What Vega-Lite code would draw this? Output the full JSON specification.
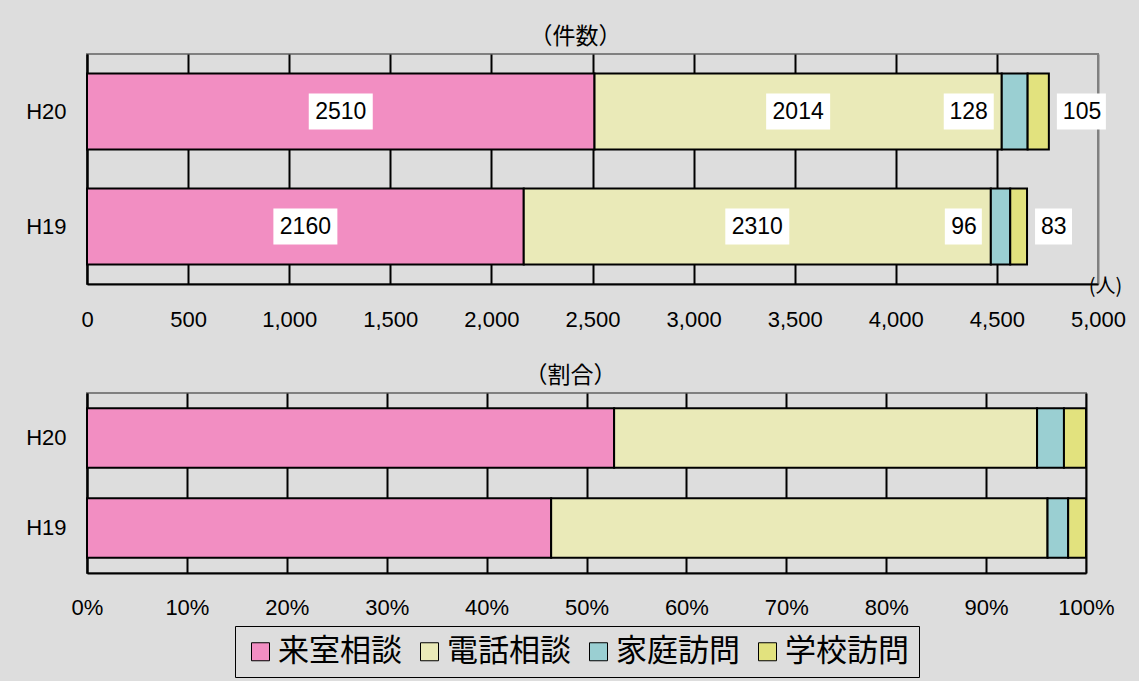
{
  "$schema": "https://vega.github.io/schema/vega-lite/v6.json",
  "background": "#DDDDDD",
  "padding": {"left": 24, "top": 25, "right": 14, "bottom": 4},
  "autosize": {"type": "pad"},
  "datasets": {
    "d": [
      {"year": "H20", "category": "来室相談", "rank": 1, "count": 2510},
      {"year": "H20", "category": "電話相談", "rank": 2, "count": 2014},
      {"year": "H20", "category": "家庭訪問", "rank": 3, "count": 128},
      {"year": "H20", "category": "学校訪問", "rank": 4, "count": 105},
      {"year": "H19", "category": "来室相談", "rank": 1, "count": 2160},
      {"year": "H19", "category": "電話相談", "rank": 2, "count": 2310},
      {"year": "H19", "category": "家庭訪問", "rank": 3, "count": 96},
      {"year": "H19", "category": "学校訪問", "rank": 4, "count": 83}
    ]
  },
  "config": {
    "font": "Liberation Sans",
    "view": {"stroke": "#808080", "strokeWidth": 2},
    "axis": {
      "labelFont": "Liberation Sans",
      "labelFontSize": 22,
      "labelColor": "black",
      "domainColor": "black",
      "domainWidth": 2,
      "ticks": false,
      "gridColor": "black",
      "gridWidth": 2,
      "gridOpacity": 1,
      "labelFlush": false,
      "labelOverlap": false
    },
    "title": {"font": "Noto Sans CJK JP", "fontSize": 23, "fontWeight": "normal", "color": "black"},
    "concat": {"spacing": 33}
  },
  "resolve": {"scale": {"color": "shared"}},
  "vconcat": [
    {
      "width": 1011,
      "height": 230,
      "title": {"text": "（件数）", "dx": -17, "offset": 5},
      "data": {"name": "d"},
      "transform": [
        {"stack": "count", "groupby": ["year"], "sort": [{"field": "rank", "order": "ascending"}], "as": ["x0", "x1"]},
        {"calculate": "(datum.x0 + datum.x1) / 2", "as": "xm"}
      ],
      "encoding": {
        "y": {
          "field": "year", "type": "nominal", "sort": ["H20", "H19"],
          "scale": {"paddingInner": 0.34, "paddingOuter": 0.17},
          "axis": {"title": null, "labelPadding": 21}
        }
      },
      "layer": [
        {
          "mark": {"type": "bar", "stroke": "black", "strokeWidth": 2},
          "encoding": {
            "x": {
              "field": "x0", "type": "quantitative",
              "scale": {"domain": [0, 5000]},
              "axis": {
                "values": [0, 500, 1000, 1500, 2000, 2500, 3000, 3500, 4000, 4500, 5000],
                "format": ",d",
                "labelPadding": 25,
                "grid": true,
                "gridColor": {"condition": {"test": "datum.value === 5000", "value": "#808080"}, "value": "black"},
                "title": "(人)",
                "titleX": 1018,
                "titleY": 2,
                "titleAlign": "center",
                "titleBaseline": "middle",
                "titleFont": "Noto Sans CJK JP",
                "titleFontSize": 20,
                "titleFontWeight": "normal",
                "titleColor": "black"
              }
            },
            "x2": {"field": "x1"},
            "color": {
              "field": "category", "type": "nominal",
              "scale": {"domain": ["来室相談", "電話相談", "家庭訪問", "学校訪問"], "range": ["#F28EC2", "#EAEAB8", "#9ACFD2", "#E2E27E"]},
              "legend": {
                "title": null, "orient": "none", "legendX": 148, "legendY": 572,
                "direction": "horizontal", "symbolType": "square", "symbolSize": 324,
                "symbolStrokeColor": "black", "symbolStrokeWidth": 1,
                "labelFont": "Noto Sans CJK JP", "labelFontSize": 31, "labelColor": "black",
                "labelOffset": 2, "columnPadding": 12, "padding": 10,
                "strokeColor": "black", "fillColor": "#DDDDDD", "labelLimit": 300,
                "encoding": {"legend": {"update": {"strokeWidth": {"value": 2}}}}
              }
            }
          }
        },
        {
          "transform": [{"filter": "datum.rank <= 2"}],
          "mark": {"type": "point", "filled": true, "fill": "white", "opacity": 1, "size": 4, "strokeWidth": 0, "shape": "M-32,-18H32V18H-32Z"},
          "encoding": {"x": {"field": "xm", "type": "quantitative"}}
        },
        {
          "transform": [{"filter": "datum.rank === 3 && datum.year === 'H20'"}],
          "mark": {"type": "point", "filled": true, "fill": "white", "opacity": 1, "size": 4, "strokeWidth": 0, "shape": "M-58,-18H-8V18H-58Z"},
          "encoding": {"x": {"field": "x0", "type": "quantitative"}}
        },
        {
          "transform": [{"filter": "datum.rank === 3 && datum.year === 'H19'"}],
          "mark": {"type": "point", "filled": true, "fill": "white", "opacity": 1, "size": 4, "strokeWidth": 0, "shape": "M-46,-18H-9V18H-46Z"},
          "encoding": {"x": {"field": "x0", "type": "quantitative"}}
        },
        {
          "transform": [{"filter": "datum.rank === 4 && datum.year === 'H20'"}],
          "mark": {"type": "point", "filled": true, "fill": "white", "opacity": 1, "size": 4, "strokeWidth": 0, "shape": "M8,-18H57V18H8Z"},
          "encoding": {"x": {"field": "x1", "type": "quantitative"}}
        },
        {
          "transform": [{"filter": "datum.rank === 4 && datum.year === 'H19'"}],
          "mark": {"type": "point", "filled": true, "fill": "white", "opacity": 1, "size": 4, "strokeWidth": 0, "shape": "M8,-18H45V18H8Z"},
          "encoding": {"x": {"field": "x1", "type": "quantitative"}}
        },
        {
          "transform": [{"filter": "datum.rank <= 2"}],
          "mark": {"type": "text", "align": "center", "baseline": "middle", "fontSize": 23, "font": "Liberation Sans", "color": "black"},
          "encoding": {"x": {"field": "xm", "type": "quantitative"}, "text": {"field": "count", "type": "quantitative", "format": "d"}}
        },
        {
          "transform": [{"filter": "datum.rank === 3"}],
          "mark": {"type": "text", "align": "right", "baseline": "middle", "dx": -14, "fontSize": 23, "font": "Liberation Sans", "color": "black"},
          "encoding": {"x": {"field": "x0", "type": "quantitative"}, "text": {"field": "count", "type": "quantitative", "format": "d"}}
        },
        {
          "transform": [{"filter": "datum.rank === 4"}],
          "mark": {"type": "text", "align": "left", "baseline": "middle", "dx": 14, "fontSize": 23, "font": "Liberation Sans", "color": "black"},
          "encoding": {"x": {"field": "x1", "type": "quantitative"}, "text": {"field": "count", "type": "quantitative", "format": "d"}}
        }
      ]
    },
    {
      "width": 999,
      "height": 180,
      "title": {"text": "（割合）", "dx": -16, "offset": 5},
      "data": {"name": "d"},
      "transform": [
        {"stack": "count", "groupby": ["year"], "sort": [{"field": "rank", "order": "ascending"}], "offset": "normalize", "as": ["p0", "p1"]}
      ],
      "mark": {"type": "bar", "stroke": "black", "strokeWidth": 2},
      "encoding": {
        "y": {
          "field": "year", "type": "nominal", "sort": ["H20", "H19"],
          "scale": {"paddingInner": 0.34, "paddingOuter": 0.17},
          "axis": {"title": null, "labelPadding": 21}
        },
        "x": {
          "field": "p0", "type": "quantitative",
          "scale": {"domain": [0, 1]},
          "axis": {
            "values": [0, 0.1, 0.2, 0.3, 0.4, 0.5, 0.6, 0.7, 0.8, 0.9, 1],
            "format": ".0%", "labelPadding": 24, "grid": true, "title": null
          }
        },
        "x2": {"field": "p1"},
        "color": {
          "field": "category", "type": "nominal",
          "scale": {"domain": ["来室相談", "電話相談", "家庭訪問", "学校訪問"], "range": ["#F28EC2", "#EAEAB8", "#9ACFD2", "#E2E27E"]},
          "legend": {
            "title": null, "orient": "none", "legendX": 148, "legendY": 572,
            "direction": "horizontal", "symbolType": "square", "symbolSize": 324,
            "symbolStrokeColor": "black", "symbolStrokeWidth": 1,
            "labelFont": "Noto Sans CJK JP", "labelFontSize": 31, "labelColor": "black",
            "labelOffset": 2, "columnPadding": 12, "padding": 10,
            "strokeColor": "black", "fillColor": "#DDDDDD", "labelLimit": 300,
            "encoding": {"legend": {"update": {"strokeWidth": {"value": 2}}}}
          }
        }
      }
    }
  ]
}
